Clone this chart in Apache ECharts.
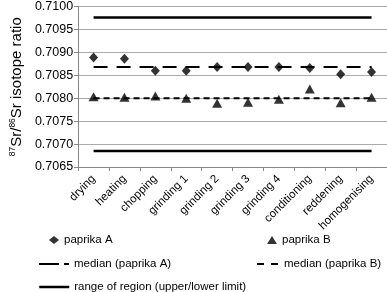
<!DOCTYPE html>
<html>
<head>
<meta charset="utf-8">
<script src="https://cdn.jsdelivr.net/npm/echarts@6/dist/echarts.min.js"></script>
<style>
  html, body { margin: 0; padding: 0; background: #fff; }
  #chart { width: 387px; height: 292px; }
</style>
</head>
<body>
<div id="chart"></div>
<script>
  // categories (process steps)
  var steps = ['drying', 'heating', 'chopping', 'grinding 1', 'grinding 2', 'grinding 3', 'grinding 4', 'conditioning', 'reddening', 'homogenising'];
  // 87Sr/86Sr values
  var paprikaA = [0.70889, 0.70886, 0.70860, 0.70860, 0.70868, 0.70868, 0.70868, 0.70866, 0.70852, 0.70857];
  var paprikaB = [0.70803, 0.70802, 0.70805, 0.70800, 0.70789, 0.70791, 0.70798, 0.70820, 0.70790, 0.70802];
  var medianA = 0.70868;
  var medianB = 0.70800;
  var upperLimit = 0.70976;
  var lowerLimit = 0.70685;
  var yTicks = { min: 0.7065, max: 0.7100, step: 0.0005 };

  function flat(v) { return steps.map(function () { return v; }); }

  var font = 'Liberation Sans';
  var myChart = echarts.init(document.getElementById('chart'));
  var legendText = { fontFamily: font, fontSize: 11.5, color: '#000' };
  var noSymbol = { opacity: 0 };

  myChart.setOption({
    animation: false,
    grid: { left: 64, top: 5, width: 334, height: 162, containLabel: false },
    xAxis: {
      type: 'category',
      data: steps,
      boundaryGap: true,
      axisLine: { lineStyle: { color: '#888', width: 1 } },
      axisTick: { show: true, length: 4, lineStyle: { color: '#888' } },
      axisLabel: { interval: 0, rotate: 45, margin: 10, fontFamily: font, fontSize: 11.5, color: '#000' },
      splitLine: { show: false }
    },
    yAxis: {
      type: 'value',
      min: yTicks.min,
      max: yTicks.max,
      interval: yTicks.step,
      axisLine: { show: true, lineStyle: { color: '#888', width: 1 } },
      axisTick: { show: true, length: 4, lineStyle: { color: '#888' } },
      axisLabel: {
        margin: 5, fontFamily: font, fontSize: 12.5, color: '#000',
        formatter: function (v) { return v.toFixed(4); }
      },
      splitLine: { show: true, lineStyle: { color: '#ababab', width: 1 } },
      name: '{s|87}{b|Sr/}{s|86}{b|Sr isotope ratio}',
      nameLocation: 'middle',
      nameGap: 53,
      nameTextStyle: {
        rich: {
          b: { fontFamily: font, fontSize: 15, color: '#000', lineHeight: 16, verticalAlign: 'bottom' },
          s: { fontFamily: font, fontSize: 8.5, color: '#000', lineHeight: 16, verticalAlign: 'top', padding: [0, 0, 6, 0] }
        }
      }
    },
    legend: [
      { data: ['paprika A'], left: 44, top: 229, itemWidth: 10, itemHeight: 8, itemGap: 6, textStyle: legendText },
      { data: ['paprika B'], left: 262, top: 229, itemWidth: 10, itemHeight: 8, itemGap: 10, textStyle: legendText },
      { data: ['median (paprika A)'], left: 33, top: 253, itemWidth: 30, itemHeight: 12, itemGap: 3,
        itemStyle: noSymbol, lineStyle: { type: [20, 5], width: 2 }, textStyle: legendText },
      { data: ['median (paprika B)'], left: 251, top: 253, itemWidth: 22, itemHeight: 12, itemGap: 10,
        itemStyle: noSymbol, lineStyle: { type: [7, 7], width: 2 }, textStyle: legendText },
      { data: ['range of region (upper/lower limit)'], left: 33, top: 276, itemWidth: 30, itemHeight: 12, itemGap: 2,
        itemStyle: noSymbol, lineStyle: { width: 2.5 }, textStyle: legendText }
    ],
    series: [
      {
        name: 'range of region (upper/lower limit)', type: 'line', data: flat(upperLimit),
        showSymbol: false, symbol: 'none', lineStyle: { color: '#000', width: 2.5 }, itemStyle: { color: '#000' }
      },
      {
        name: 'range of region (upper/lower limit)', type: 'line', data: flat(lowerLimit),
        showSymbol: false, symbol: 'none', lineStyle: { color: '#000', width: 2.5 }, itemStyle: { color: '#000' }
      },
      {
        name: 'median (paprika A)', type: 'line', data: flat(medianA),
        showSymbol: false, symbol: 'none', lineStyle: { color: '#000', width: 2, type: [14, 9] }, itemStyle: { color: '#000' }
      },
      {
        name: 'median (paprika B)', type: 'line', data: flat(medianB),
        showSymbol: false, symbol: 'none', lineStyle: { color: '#000', width: 2, type: [6, 4] }, itemStyle: { color: '#000' }
      },
      {
        name: 'paprika A', type: 'scatter', data: paprikaA, symbol: 'diamond', symbolSize: [9, 10],
        itemStyle: { color: '#000' }, z: 5
      },
      {
        name: 'paprika B', type: 'scatter', data: paprikaB, symbol: 'triangle', symbolSize: [10, 9],
        itemStyle: { color: '#000' }, z: 5
      }
    ]
  });
</script>
</body>
</html>
